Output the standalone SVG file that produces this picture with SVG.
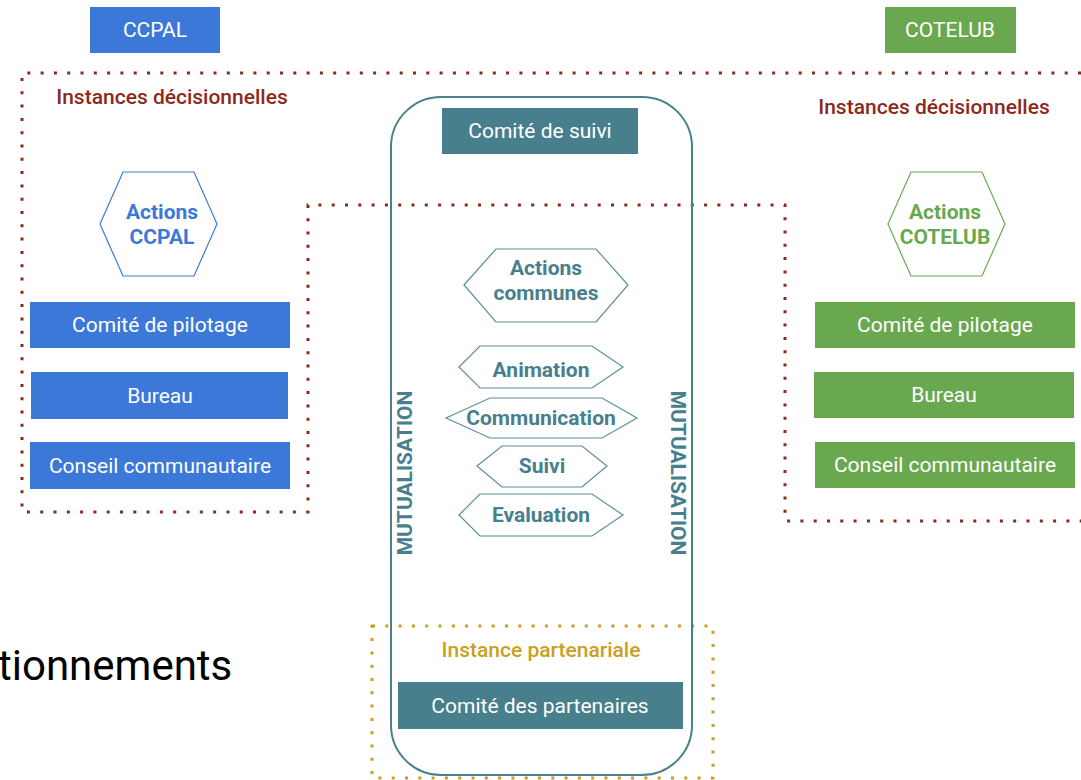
<svg xmlns="http://www.w3.org/2000/svg" width="1081" height="780" viewBox="0 0 1081 780">
<style>
text{font-family:Roboto,"Liberation Sans",sans-serif;text-anchor:middle;dominant-baseline:central}
.wt{fill:#ffffff;font-size:21px}
.blue{fill:#3c78d8}
.green{fill:#6aa84f}
.teal{fill:#47808c}
.hexb{fill:#ffffff;stroke:#3c78d8;stroke-width:1.2}
.hexg{fill:#ffffff;stroke:#6aa84f;stroke-width:1.2}
.hext{fill:#ffffff;stroke:#5a8f9a;stroke-width:1.2}
.lb{fill:#3c78d8;font-size:21px;font-weight:bold}
.lg{fill:#6aa84f;font-size:21px;font-weight:bold}
.lt{fill:#47808c;font-size:21px;font-weight:bold}
.red{fill:#8b2a1c;font-size:21px;font-weight:500}
.dotr{fill:none;stroke:#8b2a1c;stroke-width:3;stroke-dasharray:3 10.3}
.doty{fill:none;stroke:#cc9e22;stroke-width:3;stroke-dasharray:3 10.3}
</style>
<rect width="1081" height="780" fill="#ffffff"/>
<g id="connectors">
<path class="dotr" d="M1081,73 H22 V512 H308 V205 H785 V521 H1081"/>
<rect class="doty" x="372" y="626" width="341" height="152"/>
</g>
<g id="mutualisation-frame">
<rect x="391" y="97" width="301" height="678" rx="50" ry="50" fill="none" stroke="#4a808c" stroke-width="2"/>
<text class="lt" x="405" y="473" transform="rotate(-90 405 473)">MUTUALISATION</text>
<text class="lt" x="678" y="473" transform="rotate(90 678 473)">MUTUALISATION</text>
</g>
<g id="ccpal"><rect class="blue" x="90" y="7" width="130" height="46"/><text class="wt" x="155" y="30">CCPAL</text></g>
<g id="cotelub"><rect class="green" x="885" y="7" width="131" height="46"/><text class="wt" x="950" y="30">COTELUB</text></g>
<g id="instances-left"><text class="red" x="172" y="97">Instances décisionnelles</text></g>
<g id="instances-right"><text class="red" x="934" y="107">Instances décisionnelles</text></g>
<g id="actions-ccpal"><polygon class="hexb" points="100,224 123,172 194,172 217,224 194,276 123,276"/><text class="lb" x="162" y="212">Actions</text><text class="lb" x="162" y="237">CCPAL</text></g>
<g id="actions-cotelub"><polygon class="hexg" points="888,224 911,172 982,172 1005,224 982,276 911,276"/><text class="lg" x="945" y="212">Actions</text><text class="lg" x="945" y="237">COTELUB</text></g>
<g id="ccpal-pilotage"><rect class="blue" x="30" y="302" width="260" height="46"/><text class="wt" x="160" y="325">Comité de pilotage</text></g>
<g id="ccpal-bureau"><rect class="blue" x="31" y="372" width="257" height="47"/><text class="wt" x="160" y="396">Bureau</text></g>
<g id="ccpal-conseil"><rect class="blue" x="30" y="442" width="260" height="47"/><text class="wt" x="160" y="466">Conseil communautaire</text></g>
<g id="cotelub-pilotage"><rect class="green" x="815" y="302" width="260" height="46"/><text class="wt" x="945" y="325">Comité de pilotage</text></g>
<g id="cotelub-bureau"><rect class="green" x="814" y="372" width="260" height="46"/><text class="wt" x="944" y="395">Bureau</text></g>
<g id="cotelub-conseil"><rect class="green" x="815" y="442" width="260" height="46"/><text class="wt" x="945" y="465">Conseil communautaire</text></g>
<g id="comite-suivi"><rect class="teal" x="442" y="108" width="196" height="46"/><text class="wt" x="540" y="131">Comité de suivi</text></g>
<g id="actions-communes"><polygon class="hext" points="464,285 496,249 596,249 628,285 596,322 496,322"/><text class="lt" x="546" y="268">Actions</text><text class="lt" x="546" y="293">communes</text></g>
<g id="animation"><polygon class="hext" points="459,367 480,346 592,346 623,367 592,388 480,388"/><text class="lt" x="541" y="370">Animation</text></g>
<g id="communication"><polygon class="hext" points="446,418 490,398 602,398 637,418 602,438 490,438"/><text class="lt" x="541" y="418">Communication</text></g>
<g id="suivi"><polygon class="hext" points="477,466 502,446 582,446 607,466 582,487 502,487"/><text class="lt" x="542" y="466">Suivi</text></g>
<g id="evaluation"><polygon class="hext" points="459,515 480,494 592,494 623,515 592,536 480,536"/><text class="lt" x="541" y="515">Evaluation</text></g>
<g id="instance-partenariale"><text x="541" y="650" style="fill:#c9a020;font-size:21px;font-weight:500">Instance partenariale</text></g>
<g id="comite-partenaires"><rect class="teal" x="398" y="682" width="285" height="47"/><text class="wt" x="540" y="706">Comité des partenaires</text></g>
<g id="fragment"><text x="-2" y="665" style="text-anchor:start;font-size:42px;fill:#000000">tionnements</text></g>
</svg>
